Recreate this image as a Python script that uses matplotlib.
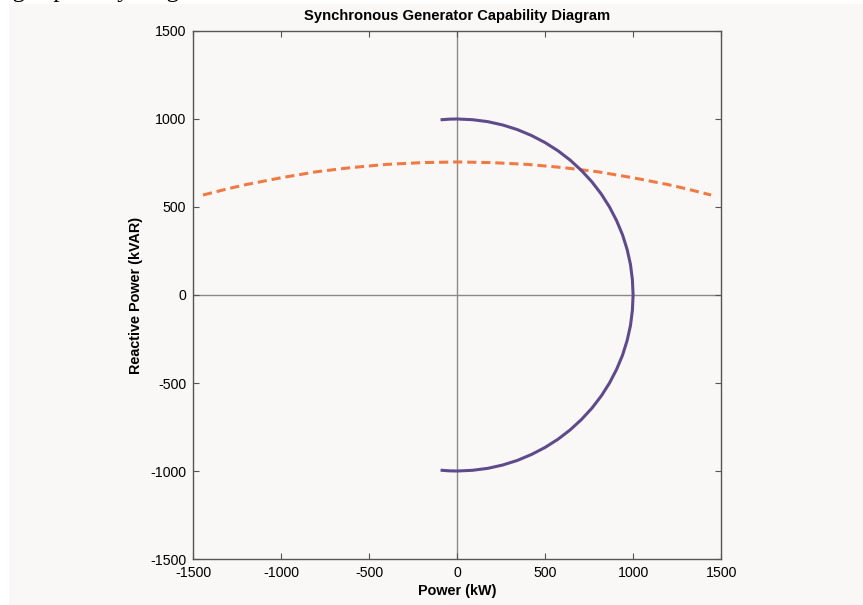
import matplotlib
matplotlib.use('Agg')
import matplotlib.pyplot as plt
from matplotlib.patches import Rectangle

# armature current limit (purple)
arm_p = [-85, -44, 0, 87, 174, 259, 342, 423, 500, 574, 643, 707, 766, 819, 866,
         906, 940, 966, 985, 996, 1000, 996, 985, 966, 940, 906, 866, 819, 766,
         707, 643, 574, 500, 423, 342, 259, 174, 87, 0, -44, -85]
arm_q = [996, 999, 1000, 996, 985, 966, 940, 906, 866, 819, 766, 707, 643, 574, 500,
         423, 342, 259, 174, 87, 0, -87, -174, -259, -342, -423, -500, -574, -643,
         -707, -766, -819, -866, -906, -940, -966, -985, -996, -1000, -999, -996]

# field current limit (orange dashed)
fld_p = [-1443, -1300, -1200, -1000, -800, -600, -400, -200, 0,
         200, 400, 600, 800, 1000, 1200, 1300, 1443]
fld_q = [568, 604, 627, 666, 700, 724, 742, 752, 756,
         752, 742, 724, 700, 666, 627, 604, 568]

bg = '#faf8f6'
plt.rcParams['font.family'] = ['Liberation Sans', 'DejaVu Sans']
plt.rcParams['axes.unicode_minus'] = False

fig = plt.figure(figsize=(8.63, 6.05), dpi=100, facecolor=bg)
# white page margin around the pasted chart
fig.patches.append(Rectangle((0, 0), 9 / 863, 1, transform=fig.transFigure,
                             facecolor='white', edgecolor='none', zorder=0))
fig.patches.append(Rectangle((0, 1 - 4 / 605), 1, 4 / 605, transform=fig.transFigure,
                             facecolor='white', edgecolor='none', zorder=0))

ax = fig.add_axes([0.2236, 0.076, 0.6120, 0.8728], facecolor=bg)

ax.axhline(0, color='#8a8a8a', lw=1.0, zorder=1)
ax.axvline(0, color='#8a8a8a', lw=1.0, zorder=1)

ax.plot(arm_p, arm_q, color='#5f4b8b', lw=2.2, zorder=3)
ax.plot(fld_p, fld_q, color='#f07a45', lw=2.2, ls=(0, (3, 1.6)), zorder=2)

ax.set_xlim(-1500, 1500)
ax.set_ylim(-1500, 1500)
ax.set_xticks([-1500, -1000, -500, 0, 500, 1000, 1500])
ax.set_yticks([-1500, -1000, -500, 0, 500, 1000, 1500])
ax.tick_params(direction='in', length=4, width=0.8, color='#555555',
               top=True, right=True, labelsize=10.2, pad=5)
for s in ax.spines.values():
    s.set_color('#555555')
    s.set_linewidth(1.0)

ax.set_title('Synchronous Generator Capability Diagram', fontsize=10.6,
             fontweight='bold', pad=8)
ax.set_xlabel('Power (kW)', fontsize=10.4, fontweight='bold', labelpad=3)
ax.set_ylabel('Reactive Power (kVAR)', fontsize=10.4, fontweight='bold', labelpad=5)

# clipped caption text from the page above the chart
fig.text(0.0, 1 + 2.5 / 605, 'ng capability diagram', family='Liberation Serif',
         fontsize=18, va='baseline', ha='left')

fig.savefig('out.png', dpi=100, facecolor=bg)
